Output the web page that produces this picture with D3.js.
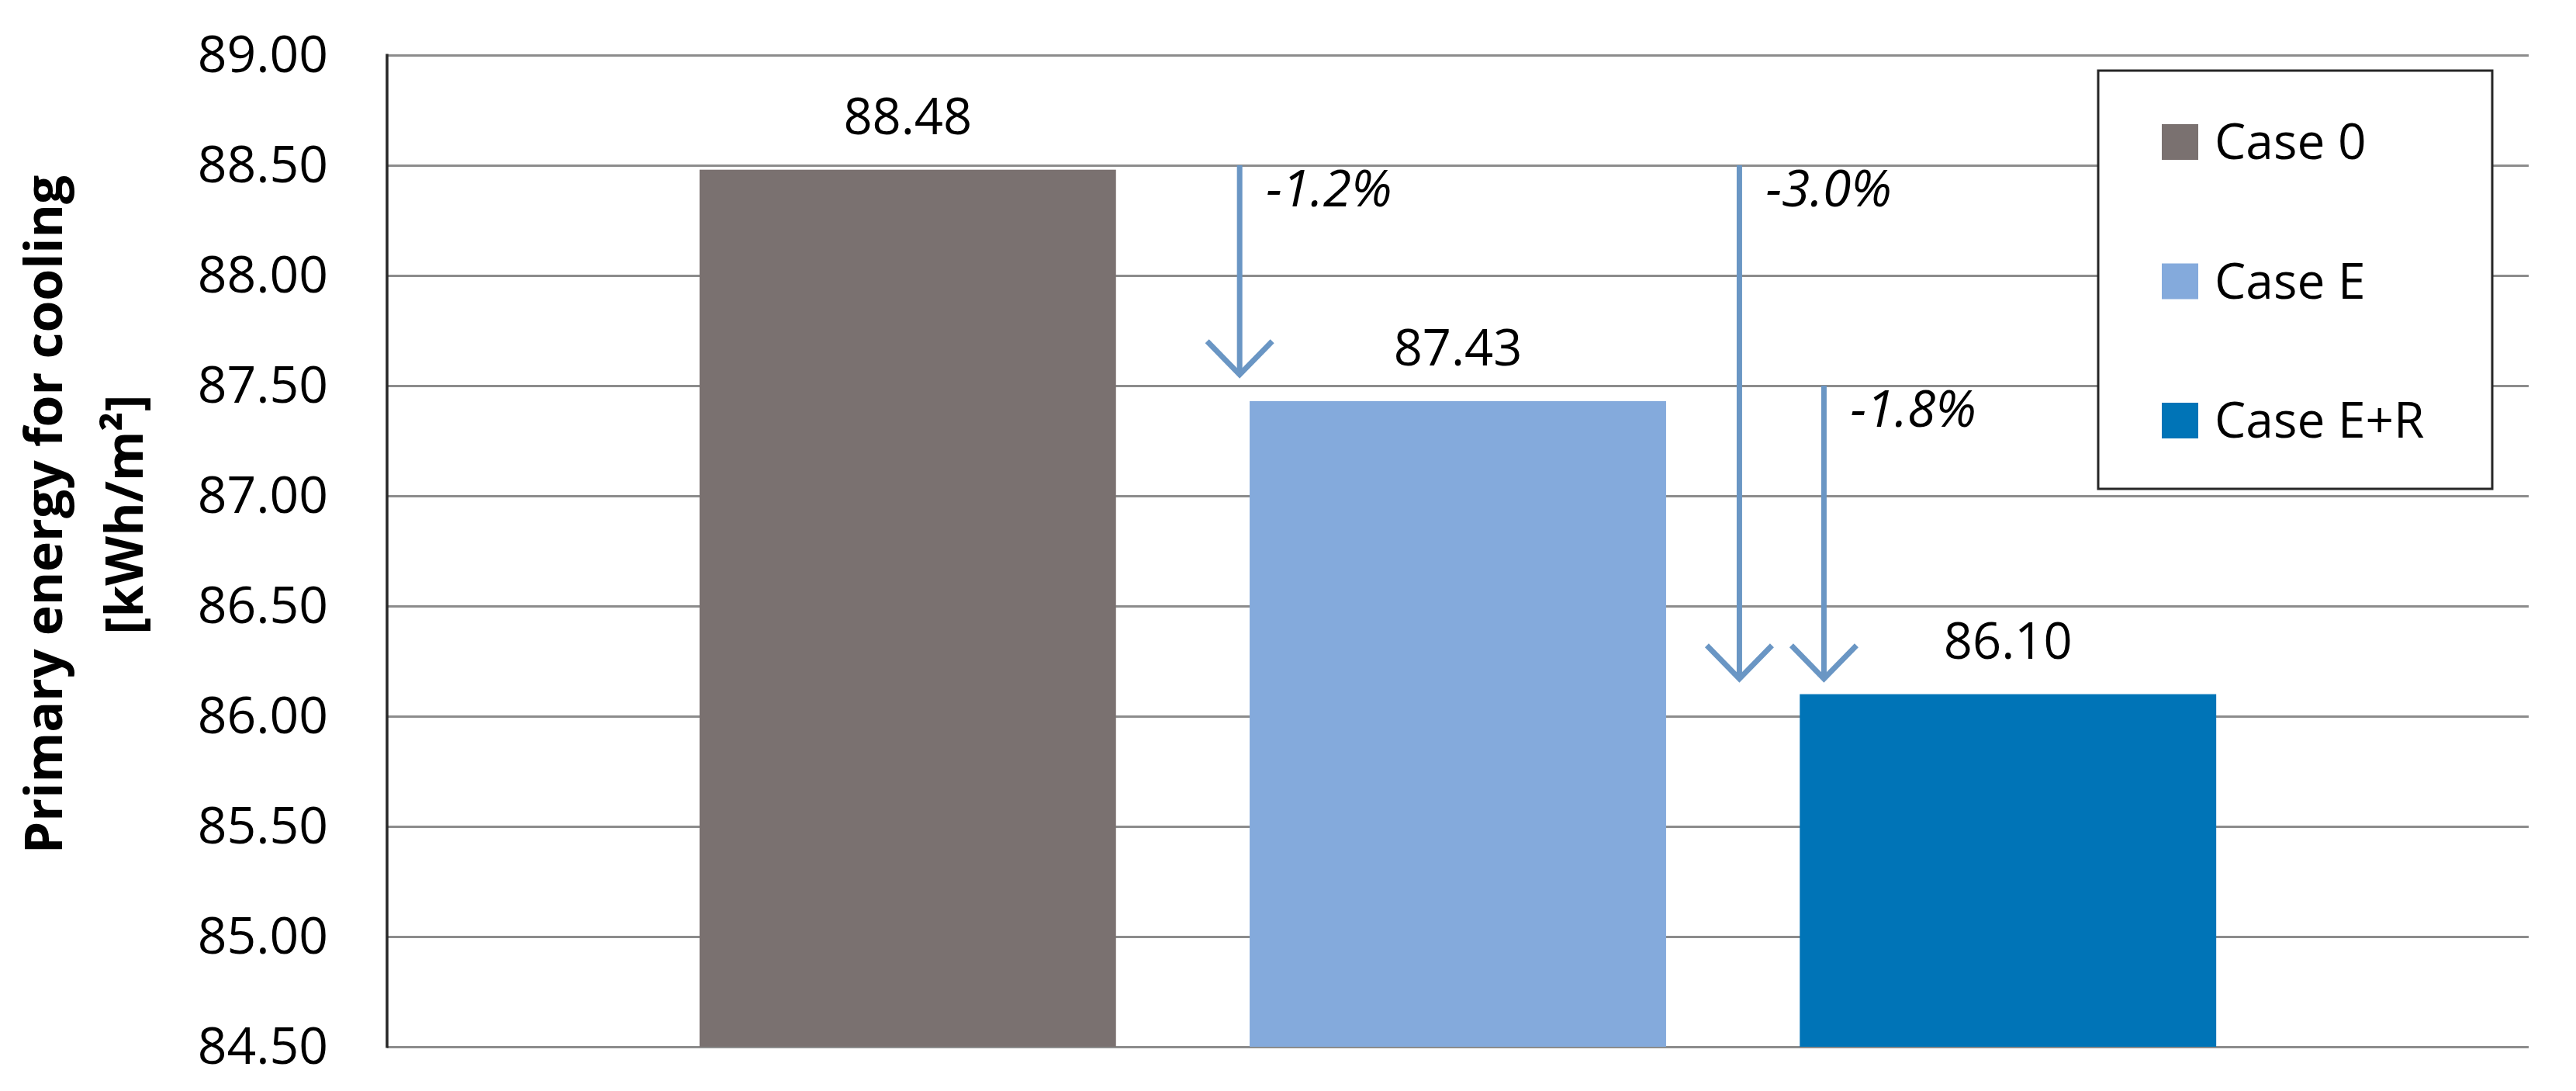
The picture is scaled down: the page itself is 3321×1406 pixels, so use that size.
<!DOCTYPE html>
<html lang="en">
<head>
<meta charset="utf-8">
<title>Primary energy for cooling</title>
<script src="https://d3js.org/d3.v7.min.js"></script>
<style>
  body { margin: 0; background: #fff; }
  text { font-family: "Open Sans", "Liberation Sans", sans-serif; fill: #000; }
</style>
</head>
<body>
<script>
// data
var cases = ["Case 0", "Case E", "Case E+R"];
var values = [88.48, 87.43, 86.10];
var colors = ["#7a7170", "#84aadc", "#0074b7"];
var yTicks = [84.5, 85, 85.5, 86, 86.5, 87, 87.5, 88, 88.5, 89];

// reduction arrows
var changeLabels = ["-1.2%", "-3.0%", "-1.8%"];
var changeTargets = ["Case E", "Case E+R", "Case E+R"];
var changeFrom = [88.5, 88.5, 87.5];
var changeTo = [87.55, 86.17, 86.17];
var changeShift = [-0.024, -0.145, 0.058];   // offset from target bar left edge, in bar widths

var width = 3321, height = 1406;
var margin = {top: 71, right: 61, bottom: 57, left: 499};

var svg = d3.select("body").append("svg")
    .attr("width", width)
    .attr("height", height)
    .style("background", "#fff");

var x = d3.scaleBand()
    .domain(cases)
    .range([margin.left, width - margin.right])
    .paddingInner(0.243)
    .paddingOuter(0.568);

var y = d3.scaleLinear()
    .domain([84.5, 89])
    .range([height - margin.bottom, margin.top]);

var plotW = width - margin.right - margin.left;

// gridlines + tick labels
var yAxis = svg.append("g")
    .attr("transform", "translate(" + margin.left + ",0)")
    .call(d3.axisLeft(y)
        .tickValues(yTicks)
        .tickSize(-plotW)
        .tickPadding(76)
        .tickFormat(d3.format(".2f")));
yAxis.select(".domain").remove();
yAxis.selectAll(".tick line")
    .attr("stroke", "#8c8c8c")
    .attr("stroke-width", 3);
yAxis.selectAll(".tick text")
    .attr("font-size", 66)
    .attr("fill", "#000")
    .style("font-family", "'Open Sans', sans-serif");

// bars
svg.append("g").selectAll("rect")
    .data(values)
    .enter().append("rect")
    .attr("x", function(d, i) { return x(cases[i]); })
    .attr("y", function(d) { return y(d); })
    .attr("width", x.bandwidth())
    .attr("height", function(d) { return y(84.5) - y(d); })
    .attr("fill", function(d, i) { return colors[i]; });

// left axis line
svg.append("line")
    .attr("x1", margin.left).attr("x2", margin.left)
    .attr("y1", y(89) - 1.5).attr("y2", y(84.5) + 1.5)
    .attr("stroke", "#262626")
    .attr("stroke-width", 3.5);

// value labels
svg.append("g").selectAll("text")
    .data(values)
    .enter().append("text")
    .attr("x", function(d, i) { return x(cases[i]) + x.bandwidth() / 2; })
    .attr("y", function(d) { return y(d) - 46; })
    .attr("text-anchor", "middle")
    .attr("font-size", 65)
    .text(function(d) { return d.toFixed(2); });

// arrows with percentages
var arrows = svg.append("g").selectAll("g")
    .data(changeLabels)
    .enter().append("g");

function arrowX(i) { return x(changeTargets[i]) + changeShift[i] * x.bandwidth(); }

arrows.append("line")
    .attr("x1", function(d, i) { return arrowX(i); })
    .attr("x2", function(d, i) { return arrowX(i); })
    .attr("y1", function(d, i) { return y(changeFrom[i]); })
    .attr("y2", function(d, i) { return y(changeTo[i]) - 3; })
    .attr("stroke", "#6a96c4")
    .attr("stroke-width", 7);

arrows.append("path")
    .attr("d", function(d, i) {
        var ax = arrowX(i), ay = y(changeTo[i]);
        return "M" + (ax - 42) + "," + (ay - 43) + "L" + ax + "," + ay + "L" + (ax + 42) + "," + (ay - 43);
    })
    .attr("fill", "none")
    .attr("stroke", "#6a96c4")
    .attr("stroke-width", 7);

arrows.append("text")
    .attr("x", function(d, i) { return arrowX(i) + 34; })
    .attr("y", function(d, i) { return y(changeFrom[i]) + 53; })
    .attr("font-size", 66)
    .attr("font-style", "italic")
    .text(function(d) { return d; });

// legend
var legend = svg.append("g").attr("transform", "translate(2705,91)");
legend.append("rect")
    .attr("width", 508)
    .attr("height", 539)
    .attr("fill", "#fff")
    .attr("stroke", "#262626")
    .attr("stroke-width", 3);

var item = legend.selectAll(".item")
    .data(cases)
    .enter().append("g")
    .attr("class", "item")
    .attr("transform", function(d, i) { return "translate(82," + (92 + i * 179.5) + ")"; });

item.append("rect")
    .attr("y", -23)
    .attr("width", 47)
    .attr("height", 46)
    .attr("fill", function(d, i) { return colors[i]; });

item.append("text")
    .attr("x", 68)
    .attr("dy", "0.35em")
    .attr("font-size", 64)
    .text(function(d) { return d; });

// y axis title
var title = svg.append("g")
    .attr("font-weight", "bold")
    .attr("font-size", 66)
    .attr("text-anchor", "middle");
title.append("text")
    .attr("transform", "translate(80,663) rotate(-90)")
    .text("Primary energy for cooling");
title.append("text")
    .attr("transform", "translate(184,663) rotate(-90)")
    .text("[kWh/m²]");
</script>
</body>
</html>
